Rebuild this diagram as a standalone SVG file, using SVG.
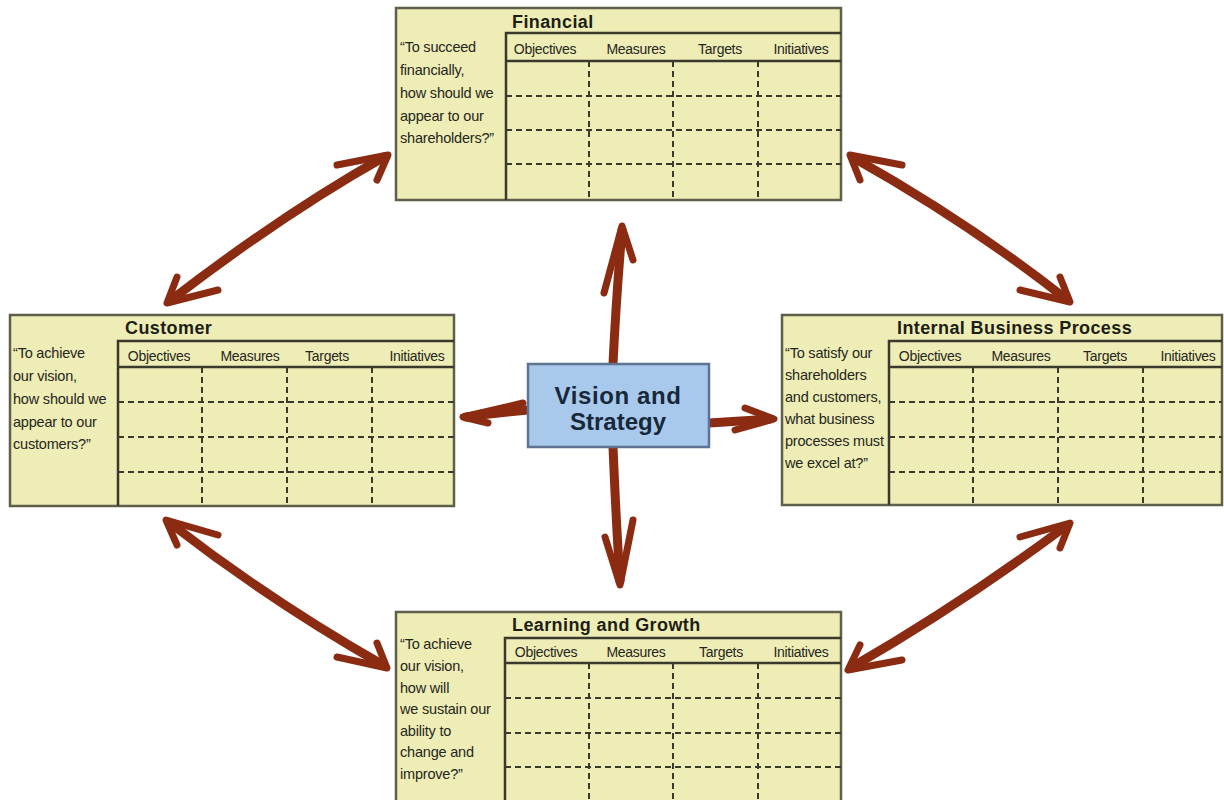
<svg xmlns="http://www.w3.org/2000/svg" width="1224" height="800" viewBox="0 0 1224 800">
<style>
.box{fill:#eeedb6;stroke:#5f5f4c;stroke-width:2.5}
.sl{stroke:#3a3a2c;stroke-width:2.5;fill:none}
.dl{stroke:#3a3a2c;stroke-width:2;stroke-dasharray:6 4;fill:none}
.q{font-family:"Liberation Sans",Arial,sans-serif;font-size:14.5px;fill:#26261c;letter-spacing:-0.2px}
.h{font-family:"Liberation Sans",Arial,sans-serif;font-size:14px;fill:#26261c;text-anchor:middle;letter-spacing:-0.3px}
.t{font-family:"Liberation Sans",Arial,sans-serif;font-size:18px;font-weight:bold;fill:#1e1e16;letter-spacing:0.4px}
.vis{fill:#a9c9ec;stroke:#5d7391;stroke-width:2.5}
.vt{font-family:"Liberation Sans",Arial,sans-serif;font-size:24px;font-weight:bold;fill:#18283a;text-anchor:middle}
.ar{stroke:#8b2b12;stroke-width:9;fill:none;stroke-linecap:round;stroke-linejoin:round}
.bb{stroke:#8b2b12;stroke-width:7;fill:none;stroke-linecap:round;stroke-linejoin:round}
</style>
<rect width="1224" height="800" fill="#ffffff"/>

<g id="connectors">
  <!-- center arrows -->
  <path class="ar" d="M613,364 Q616,300 622,230"/>
  <path class="bb" d="M604,293 L622,226 L633,260"/>
  <path class="ar" d="M613,447 Q616,520 620,581"/>
  <path class="bb" d="M605,537 L620,585 L633,520"/>
  <path class="ar" d="M528,410 Q495,413 466,417"/>
  <path class="bb" d="M523,403 L463,417 L488,423"/>
  <path class="ar" d="M709,423 Q740,421 770,419"/>
  <path class="bb" d="M745,408 L774,419 L735,430"/>
  <!-- diagonal double arrows -->
  <path class="ar" d="M384,157 Q283,214 171,300"/>
  <path class="bb" d="M337,165 L388,155 L377,180"/>
  <path class="bb" d="M177,277 L167,303 L218,290"/>
  <path class="ar" d="M854,158 Q968,222 1066,299"/>
  <path class="bb" d="M902,165 L850,155 L860,180"/>
  <path class="bb" d="M1020,290 L1070,302 L1060,277"/>
  <path class="ar" d="M170,523 Q272,602 383,665"/>
  <path class="bb" d="M218,535 L166,520 L177,545"/>
  <path class="bb" d="M337,657 L387,668 L377,643"/>
  <path class="ar" d="M1066,526 Q963,603 852,667"/>
  <path class="bb" d="M1020,537 L1070,523 L1060,548"/>
  <path class="bb" d="M860,645 L848,670 L902,660"/>
</g>

<g id="financial">
  <rect class="box" x="396" y="8" width="445" height="192"/>
  <path class="sl" d="M506,200 V33 H841 M506,61 H841"/>
  <path class="dl" d="M506,96 H841 M506,130 H841 M506,164 H841 M589,61 V200 M673,61 V200 M758,61 V200"/>
  <text class="t" x="512" y="28">Financial</text>
  <text class="h" x="545" y="54">Objectives</text>
  <text class="h" x="636" y="54">Measures</text>
  <text class="h" x="720" y="54">Targets</text>
  <text class="h" x="801" y="54">Initiatives</text>
  <text class="q" x="400" y="52">“To succeed</text>
  <text class="q" x="400" y="75">financially,</text>
  <text class="q" x="400" y="98">how should we</text>
  <text class="q" x="400" y="121">appear to our</text>
  <text class="q" x="400" y="143">shareholders?”</text>
</g>

<g id="customer">
  <rect class="box" x="10" y="315" width="444" height="191"/>
  <path class="sl" d="M118,506 V341 H454 M118,367 H454"/>
  <path class="dl" d="M118,402 H454 M118,437 H454 M118,472 H454 M202,367 V506 M287,367 V506 M372,367 V506"/>
  <text class="t" x="125" y="334">Customer</text>
  <text class="h" x="159" y="361">Objectives</text>
  <text class="h" x="250" y="361">Measures</text>
  <text class="h" x="327" y="361">Targets</text>
  <text class="h" x="417" y="361">Initiatives</text>
  <text class="q" x="13" y="358">“To achieve</text>
  <text class="q" x="13" y="381">our vision,</text>
  <text class="q" x="13" y="404">how should we</text>
  <text class="q" x="13" y="427">appear to our</text>
  <text class="q" x="13" y="449">customers?”</text>
</g>

<g id="internal">
  <rect class="box" x="782" y="315" width="440" height="190"/>
  <path class="sl" d="M889,505 V341 H1222 M889,367 H1222"/>
  <path class="dl" d="M889,402 H1222 M889,437 H1222 M889,472 H1222 M973,367 V505 M1058,367 V505 M1143,367 V505"/>
  <text class="t" x="897" y="334">Internal Business Process</text>
  <text class="h" x="930" y="361">Objectives</text>
  <text class="h" x="1021" y="361">Measures</text>
  <text class="h" x="1105" y="361">Targets</text>
  <text class="h" x="1188" y="361">Initiatives</text>
  <text class="q" x="785" y="358">“To satisfy our</text>
  <text class="q" x="785" y="380">shareholders</text>
  <text class="q" x="785" y="402">and customers,</text>
  <text class="q" x="785" y="424">what business</text>
  <text class="q" x="785" y="446">processes must</text>
  <text class="q" x="785" y="468">we excel at?”</text>
</g>

<g id="learning">
  <rect class="box" x="396" y="612" width="445" height="195"/>
  <path class="sl" d="M505,807 V638 H841 M505,663 H841"/>
  <path class="dl" d="M505,698 H841 M505,733 H841 M505,767 H841 M589,663 V807 M673,663 V807 M758,663 V807"/>
  <text class="t" x="512" y="631">Learning and Growth</text>
  <text class="h" x="546" y="657">Objectives</text>
  <text class="h" x="636" y="657">Measures</text>
  <text class="h" x="721" y="657">Targets</text>
  <text class="h" x="801" y="657">Initiatives</text>
  <text class="q" x="400" y="649">“To achieve</text>
  <text class="q" x="400" y="671">our vision,</text>
  <text class="q" x="400" y="693">how will</text>
  <text class="q" x="400" y="714">we sustain our</text>
  <text class="q" x="400" y="736">ability to</text>
  <text class="q" x="400" y="757">change and</text>
  <text class="q" x="400" y="779">improve?”</text>
</g>

<g id="vision">
  <rect class="vis" x="528" y="364" width="181" height="83"/>
  <text class="vt" x="618" y="404" style="letter-spacing:0.6px">Vision and</text>
  <text class="vt" x="618" y="430">Strategy</text>
</g>
</svg>
